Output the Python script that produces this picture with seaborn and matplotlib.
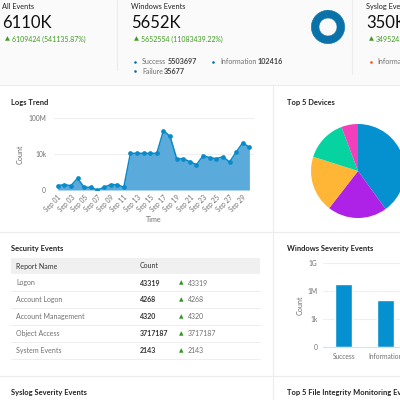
import matplotlib
matplotlib.use("Agg")
import matplotlib.pyplot as plt
import pandas as pd
import seaborn as sns
from matplotlib.patches import Rectangle

# values
trend_days = ["Sep %02d" % d for d in range(1, 31)]
trend_counts = [3, 4, 3, 20, 2, 2, 1, 2, 4, 4, 2, 12000, 12000, 12000, 12000, 12000,
                4000000, 900000, 3000, 3000, 1400, 650, 6500, 4000, 3000, 5000, 1300,
                16000, 180000, 55000]
device_share = [40, 20.5, 19.4, 14.4, 5.7]
device_colors = ["#0590cf", "#ad22e6", "#ffb636", "#06d3a0", "#f23fbb"]
severity_names = ["Success", "Information", "Failure"]
severity_counts = [5503697, 102416, 35677]
report_names = ["Logon", "Account Logon", "Account Management", "Object Access", "System Events"]
report_counts = ["43319", "4268", "4320", "3717187", "2143"]

W = 400
TEXT = "#707070"
DARK = "#222222"
GREEN = "#3f9a1f"
BLUE = "#0590cf"
DONUT = "#0a72a8"

sns.set_theme(style="white")
plt.rcParams["font.family"] = ["Lato", "DejaVu Sans"]

fig = plt.figure(figsize=(4, 4), dpi=100, facecolor="white")


def px_axes(left, top, right, bottom):
    return fig.add_axes([left / W, 1 - bottom / W, (right - left) / W, (bottom - top) / W])


# page layer in pixel coordinates
page = fig.add_axes([0, 0, 1, 1])
page.set_xlim(0, W)
page.set_ylim(W, 0)
page.axis("off")
page.add_patch(Rectangle((0, 0), W, 85, color="#fafafa", lw=0))
for x0, y0, x1, y1 in [(117, 0, 117, 70), (352, 0, 352, 74), (0, 85, W, 85),
                       (273, 85, 273, W), (0, 232, W, 232), (0, 376, W, 376)]:
    page.plot([x0, x1], [y0, y1], color="#ececec", lw=0.8)


def label(x, y, s, size=5.0, color=TEXT, weight="normal"):
    page.text(x, y, s, fontsize=size, color=color, fontweight=weight, va="center", ha="left")


# top tiles
label(2, 6.5, "All Events", 5.3, DARK)
label(2, 23, "6110K", 12, "#111111")
label(5, 39, "▲", 4.6, GREEN)
label(12, 39, "6109424 (541135.87%)", 5.0, GREEN)
label(131, 6.5, "Windows Events", 5.3, DARK)
label(131, 23, "5652K", 12, "#111111")
label(134, 39, "▲", 4.6, GREEN)
label(141, 39, "5652554 (11083439.22%)", 5.0, GREEN)
label(366, 6.5, "Syslog Events", 5.3, DARK)
label(366, 23, "350K", 12, "#111111")
label(369, 39, "▲", 4.6, GREEN)
label(376, 39, "349524", 5.0, GREEN)
page.scatter([135, 135, 213], [62, 71, 62], s=3.5, color="#0a6fa8", lw=0)
page.scatter([371], [62], s=3.5, color="#e8531f", lw=0)
label(142, 62, "Success")
label(168, 62, "5503697", 5.2, "#444444", "bold")
label(142, 71, "Failure")
label(164, 71, "35677", 5.2, "#444444", "bold")
label(220, 62, "Information")
label(258, 62, "102416", 5.2, "#444444", "bold")
label(377, 62, "Information")

# panel titles
label(11, 102, "Logs Trend", 5.4, DARK, "bold")
label(287, 102, "Top 5 Devices", 5.4, DARK, "bold")
label(11, 248, "Security Events", 5.4, DARK, "bold")
label(287, 248, "Windows Severity Events", 5.4, DARK, "bold")
label(11, 393, "Syslog Severity Events", 5.4, DARK, "bold")
label(287, 393, "Top 5 File Integrity Monitoring Events", 5.4, DARK, "bold")

# security table
page.add_patch(Rectangle((11, 258), 249, 16, color="#f0f0f0", lw=0))
label(16, 266, "Report Name", 5.0, "#333333")
label(140, 266, "Count", 5.0, "#333333")
for i, (name, count) in enumerate(zip(report_names, report_counts)):
    y = 283 + i * 16.9
    label(16, y, name)
    label(140, y, count, 5.0, "#333333", "bold")
    label(179, y, "▲", 4.2, "#2b9a1f")
    label(188, y, count)
    page.plot([11, 260], [y + 8.4, y + 8.4], color="#eeeeee", lw=0.7)

# donut
donut = px_axes(310, 9, 346, 45)
donut.pie(severity_counts, colors=[DONUT, DONUT, DONUT], radius=1, startangle=90, counterclock=False,
          wedgeprops={"width": 0.46, "lw": 0.4, "edgecolor": DONUT})
donut.set_xlim(-1.08, 1.08)
donut.set_ylim(-1.08, 1.08)

# logs trend
trend = pd.DataFrame({"day": trend_days, "count": trend_counts})
ax = px_axes(54.4, 118, 254, 190)
ax.patch.set_alpha(0)
ax.fill_between(range(len(trend_days)), trend_counts, 1, color="#5aaadb", lw=0)
sns.lineplot(data=trend, x="day", y="count", ax=ax, color="#0a8ac8", lw=1.1, marker="o",
             markersize=3.4, markeredgewidth=0, sort=False, errorbar=None)
ax.set_yscale("log")
ax.set_ylim(1, 1e8)
ax.set_xlim(-0.5, 29.7)
ax.set_yticks([1, 1e4, 1e8], ["0", "10k", "100M"])
ax.minorticks_off()
ax.set_xticks(range(0, 30, 2), trend_days[::2], rotation=45, ha="right", rotation_mode="anchor")
ax.tick_params(length=0, labelsize=4.8, labelcolor=TEXT, pad=3)
ax.tick_params(axis="y", pad=6)
ax.grid(axis="y", color="#efefef", lw=0.8)
ax.set_axisbelow(True)
sns.despine(ax=ax, left=True, bottom=True)
ax.set_xlabel("Time", fontsize=5.2, color=TEXT, labelpad=2)
ax.set_ylabel("Count", fontsize=5.2, color=TEXT, labelpad=3)

# top 5 devices
pie_ax = px_axes(358 - 47, 171 - 47, 358 + 47, 171 + 47)
pie_ax.pie(device_share, colors=device_colors, radius=1, startangle=90, counterclock=False,
           wedgeprops={"lw": 0})
pie_ax.set_xlim(-1, 1)
pie_ax.set_ylim(-1, 1)

# windows severity
sev = pd.DataFrame({"name": severity_names, "count": severity_counts})
bar_ax = px_axes(323, 263, 447.5, 347)
bar_ax.patch.set_alpha(0)
sns.barplot(data=sev, x="name", y="count", ax=bar_ax, color=BLUE, saturation=1, width=0.4,
            bottom=1, errorbar=None)
bar_ax.set_yscale("log")
bar_ax.set_ylim(1, 1e9)
bar_ax.set_yticks([1, 1e3, 1e6, 1e9], ["0", "1k", "1M", "1G"])
bar_ax.minorticks_off()
bar_ax.tick_params(length=0, labelsize=4.8, labelcolor=TEXT, pad=4)
bar_ax.grid(axis="y", color="#efefef", lw=0.8)
bar_ax.set_axisbelow(True)
sns.despine(ax=bar_ax, left=True)
bar_ax.spines["bottom"].set_color("#cfe3f0")
bar_ax.spines["bottom"].set_linewidth(0.8)
bar_ax.set_xlabel("")
bar_ax.set_ylabel("Count", fontsize=5.2, color=TEXT, labelpad=3)

fig.savefig("out.png", dpi=100)
